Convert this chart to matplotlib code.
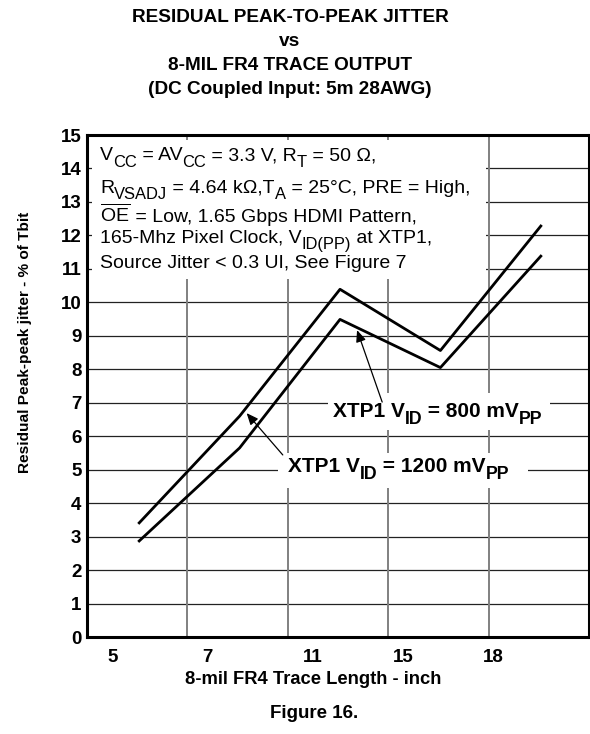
import numpy as np
import matplotlib
matplotlib.use('Agg')
import matplotlib.pyplot as plt
from matplotlib.patches import Rectangle
from matplotlib.transforms import offset_copy
from matplotlib.font_manager import FontProperties

plt.rcParams['font.family'] = ['Liberation Sans', 'DejaVu Sans']
plt.rcParams['mathtext.fontset'] = 'custom'
plt.rcParams['mathtext.rm'] = 'Liberation Sans'
plt.rcParams['mathtext.it'] = 'Liberation Sans:italic'
plt.rcParams['mathtext.bf'] = 'Liberation Sans:bold'

# trace lengths (inch), plotted as equally spaced categories
trace_len = ['5', '7', '11', '15', '18']
# residual peak-peak jitter, % of Tbit
jitter_1200 = [3.41, 6.6, 10.39, 8.56, 12.28]
jitter_800 = [2.87, 5.65, 9.49, 8.05, 11.38]
y_ticks = list(range(0, 16))

DPI = 100
fig = plt.figure(figsize=(5.9, 7.34), dpi=DPI)
ax = fig.add_axes([87 / 590, 97 / 734, 502 / 590, 502 / 734])
renderer = fig.canvas.get_renderer()


def piece_width(s, prop, ismath):
    # width in pixels, trailing spaces counted via a sentinel glyph
    if ismath:
        return renderer.get_text_width_height_descent(s, prop, ismath=True)[0]
    w1 = renderer.get_text_width_height_descent(s + '|', prop, ismath=False)[0]
    w2 = renderer.get_text_width_height_descent('|', prop, ismath=False)[0]
    return w1 - w2


def rich_text(x, y, parts, size, weight='normal', sub_scale=0.85, drop=0.34):
    """draw text with big, low subscripts like the datasheet; parts = [(str, kind)]"""
    dx = 0.0
    for s, kind in parts:
        fs = size * sub_scale if kind == 's' else size
        dy = -drop * size if kind == 's' else 0
        tr = offset_copy(ax.transData, fig=fig, x=dx, y=dy, units='points')
        ax.text(x, y, s, transform=tr, fontsize=fs, fontweight=weight,
                va='baseline', ha='left', zorder=4)
        prop = FontProperties(family=['Liberation Sans'], size=fs, weight=weight)
        dx += piece_width(s, prop, kind == 'm') * 72 / DPI


x = np.arange(len(trace_len)) + 0.52
ax.plot(x, jitter_1200, color='black', lw=2, zorder=3)
ax.plot(x, jitter_800, color='black', lw=2, zorder=3)

ax.set_xlim(0, 5)
ax.set_ylim(0, 15)
ax.set_yticks(y_ticks)
ax.set_yticklabels([str(v) for v in y_ticks], fontsize=13.5, fontweight='bold')
# tick labels sit left of the data columns in the original
ax.set_xticks([0.26, 1.2, 2.25, 3.15, 4.05])
ax.set_xticklabels(trace_len, fontsize=13.5, fontweight='bold')
ax.tick_params(axis='both', length=0, pad=4)
ax.tick_params(axis='x', pad=9)

for v in range(1, 15):
    ax.axhline(v, color='#222222', lw=0.9, zorder=0.5)
for v in range(1, 5):
    ax.axvline(v, color='#808080', lw=1.4, zorder=0.5)

for s in ax.spines.values():
    s.set_linewidth(2.2)

# conditions box
ax.add_patch(Rectangle((0.05, 10.7), 3.92, 4.15, facecolor='white',
                       edgecolor='none', zorder=1))
cond = [
    (14.25, [('V', 'n'), ('CC', 's'), (' = AV', 'n'), ('CC', 's'),
             (' = 3.3 V, R', 'n'), ('T', 's'), (' = 50 Ω,', 'n')]),
    (13.28, [('R', 'n'), ('VSADJ', 's'), (' = 4.64 kΩ,T', 'n'), ('A', 's'),
             (' = 25°C, PRE = High,', 'n')]),
    (12.4, [(r'$\overline{\mathrm{OE}}$', 'm'), (' = Low, 1.65 Gbps HDMI Pattern,', 'n')]),
    (11.8, [('165-Mhz Pixel Clock, V', 'n'), ('ID(PP)', 's'), (' at XTP1,', 'n')]),
    (11.02, [('Source Jitter < 0.3 UI, See Figure 7', 'n')]),
]
for yy, parts in cond:
    rich_text(0.13, yy, parts, 14)

# curve labels with arrows
ax.add_patch(Rectangle((2.40, 6.2), 2.21, 1.1, facecolor='white', edgecolor='none', zorder=1))
ax.add_patch(Rectangle((1.90, 4.45), 2.49, 1.05, facecolor='white', edgecolor='none', zorder=1))
rich_text(2.45, 6.57, [('XTP1 V', 'n'), ('ID', 's'), (' = 800 mV', 'n'), ('PP', 's')],
          15, weight='bold')
rich_text(2.0, 4.93, [('XTP1 V', 'n'), ('ID', 's'), (' = 1200 mV', 'n'), ('PP', 's')],
          15, weight='bold')
arrow = dict(arrowstyle='-|>,head_length=0.7,head_width=0.3', color='black',
             lw=0.9, shrinkA=0, shrinkB=0)
ax.annotate('', xy=(2.69, 9.17), xytext=(2.94, 7.02), arrowprops=arrow, zorder=5)
ax.annotate('', xy=(1.59, 6.69), xytext=(1.95, 5.44), arrowprops=arrow, zorder=5)

# titles and labels
title = ['RESIDUAL PEAK-TO-PEAK JITTER', 'vs', '8-MIL FR4 TRACE OUTPUT',
         '(DC Coupled Input: 5m 28AWG)']
for i, t in enumerate(title):
    fig.text(290 / 590, 1 - (17 + 24.3 * i) / 734, t, fontsize=13.7,
             fontweight='bold', ha='center', va='center')
fig.text(313 / 590, 1 - 680 / 734, '8-mil FR4 Trace Length - inch', fontsize=13.2,
         fontweight='bold', ha='center', va='center')
fig.text(314 / 590, 1 - 713 / 734, 'Figure 16.', fontsize=13.5,
         fontweight='bold', ha='center', va='center')
fig.text(25 / 590, 1 - 342 / 734, 'Residual Peak-peak jitter - % of Tbit',
         fontsize=11.1, fontweight='bold', ha='center', va='center', rotation=90)

fig.savefig('out.png', dpi=DPI)
